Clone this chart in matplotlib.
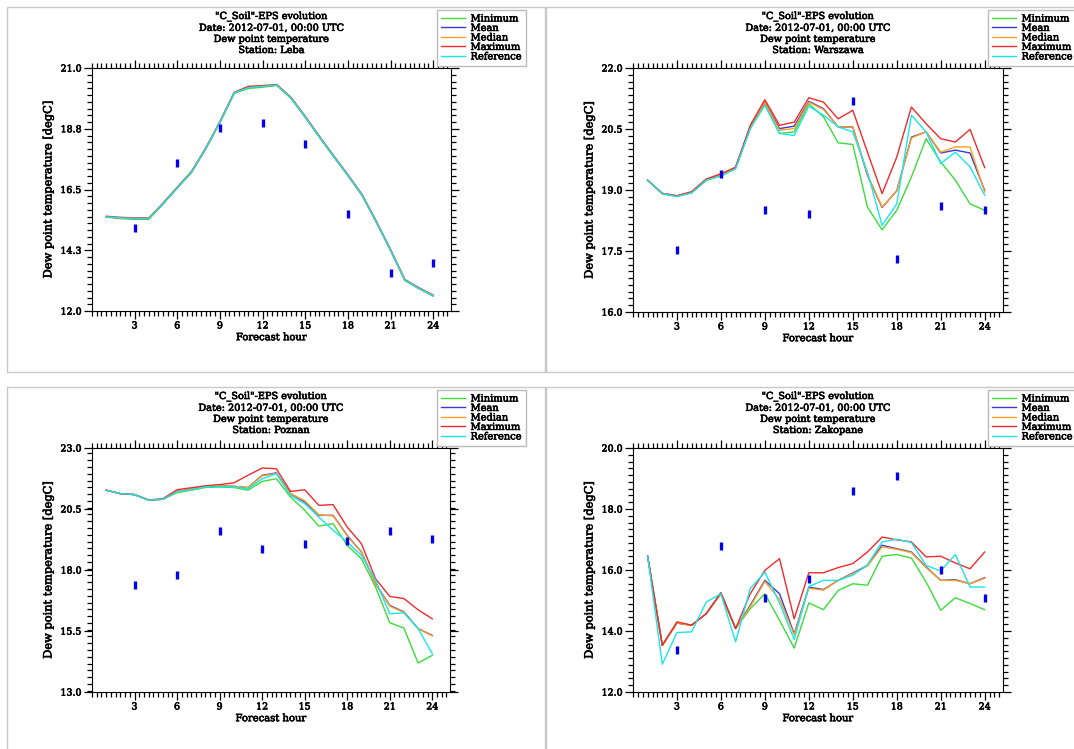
import matplotlib
matplotlib.use("Agg")
import math

import matplotlib.patheffects as pe
import matplotlib.pyplot as plt
from matplotlib.patches import Rectangle
from matplotlib.ticker import FixedLocator, FuncFormatter, MultipleLocator

W, H = 1074, 749

hours = list(range(1, 25))
obs_hours = [3, 6, 9, 12, 15, 18, 21, 24]
series_names = ["Minimum", "Mean", "Median", "Maximum", "Reference"]
series_colors = ["#3bdc3b", "#3a3ad0", "#ffa020", "#ee2b2b", "#19e6ec"]

# Leba
leba_min = [15.48, 15.42, 15.40, 15.40, 15.96, 16.55, 17.13, 18.00, 18.98, 20.06, 20.24, 20.29,
            20.35, 19.87, 19.17, 18.43, 17.71, 17.01, 16.27, 15.28, 14.24, 13.13, 12.82, 12.55]
leba_mean = [15.49, 15.44, 15.42, 15.42, 15.98, 16.57, 17.15, 18.02, 19.00, 20.08, 20.28, 20.32,
             20.37, 19.89, 19.19, 18.45, 17.73, 17.03, 16.29, 15.30, 14.26, 13.15, 12.84, 12.57]
leba_median = [15.49, 15.44, 15.42, 15.42, 15.98, 16.57, 17.15, 18.02, 19.00, 20.08, 20.28, 20.32,
               20.37, 19.89, 19.19, 18.45, 17.73, 17.03, 16.29, 15.30, 14.26, 13.15, 12.84, 12.57]
leba_max = [15.51, 15.47, 15.45, 15.45, 16.00, 16.59, 17.17, 18.04, 19.02, 20.10, 20.32, 20.35,
            20.39, 19.91, 19.21, 18.47, 17.75, 17.05, 16.31, 15.32, 14.28, 13.17, 12.86, 12.59]
leba_ref = [15.49, 15.45, 15.43, 15.43, 15.98, 16.57, 17.15, 18.02, 19.00, 20.08, 20.27, 20.32,
            20.37, 19.89, 19.19, 18.45, 17.73, 17.03, 16.29, 15.30, 14.26, 13.15, 12.84, 12.57]
leba_obs = [15.08, 17.50, 18.79, 18.98, 18.19, 15.60, 13.39, 13.79]

# Warszawa
wars_min = [19.24, 18.91, 18.84, 18.93, 19.24, 19.36, 19.54, 20.51, 21.12, 20.39, 20.43, 21.12,
            20.80, 20.16, 20.12, 18.58, 18.02, 18.50, 19.32, 20.26, 19.69, 19.24, 18.66, 18.50]
wars_mean = [19.24, 18.91, 18.85, 18.94, 19.25, 19.37, 19.55, 20.53, 21.16, 20.51, 20.57, 21.18,
             21.00, 20.55, 20.55, 19.36, 18.57, 18.98, 20.30, 20.43, 19.91, 19.98, 19.91, 18.99]
wars_median = [19.24, 18.91, 18.85, 18.94, 19.25, 19.37, 19.55, 20.53, 21.15, 20.47, 20.51, 21.16,
               20.98, 20.55, 20.55, 19.38, 18.58, 18.98, 20.28, 20.43, 19.93, 20.06, 20.06, 18.95]
wars_max = [19.24, 18.92, 18.86, 18.96, 19.27, 19.40, 19.56, 20.59, 21.22, 20.59, 20.67, 21.27,
            21.16, 20.75, 20.96, 19.93, 18.91, 19.81, 21.04, 20.63, 20.26, 20.18, 20.49, 19.55]
wars_ref = [19.24, 18.91, 18.84, 18.93, 19.24, 19.34, 19.52, 20.51, 21.08, 20.39, 20.34, 21.06,
            20.84, 20.55, 20.43, 19.44, 18.13, 18.66, 20.84, 20.43, 19.65, 19.93, 19.57, 18.87]
wars_obs = [17.52, 19.40, 18.50, 18.42, 21.20, 17.31, 18.60, 18.52]

# Poznan
pozn_min = [21.27, 21.13, 21.09, 20.86, 20.90, 21.17, 21.27, 21.38, 21.40, 21.38, 21.27, 21.63,
            21.74, 20.99, 20.45, 19.80, 19.90, 19.01, 18.46, 17.30, 15.84, 15.62, 14.19, 14.50]
pozn_mean = [21.27, 21.13, 21.09, 20.86, 20.90, 21.22, 21.31, 21.42, 21.45, 21.43, 21.38, 21.88,
             21.98, 21.13, 20.79, 20.24, 20.24, 19.42, 18.74, 17.44, 16.55, 16.28, 15.60, 15.32]
pozn_median = [21.27, 21.13, 21.09, 20.86, 20.90, 21.22, 21.31, 21.42, 21.45, 21.43, 21.38, 21.86,
               21.96, 21.13, 20.84, 20.26, 20.22, 19.40, 18.72, 17.42, 16.52, 16.26, 15.60, 15.30]
pozn_max = [21.27, 21.13, 21.09, 20.87, 20.92, 21.29, 21.37, 21.45, 21.50, 21.57, 21.88, 22.18,
            22.15, 21.22, 21.29, 20.65, 20.68, 19.76, 19.08, 17.64, 16.92, 16.83, 16.37, 16.00]
pozn_ref = [21.27, 21.13, 21.09, 20.86, 20.90, 21.20, 21.29, 21.40, 21.43, 21.40, 21.33, 21.74,
            21.95, 21.06, 20.72, 20.17, 19.63, 19.15, 18.60, 17.58, 16.21, 16.24, 15.60, 14.57]
pozn_obs = [17.40, 17.78, 19.58, 18.87, 19.08, 19.19, 19.58, 19.28]

# Zakopane
zako_min = [16.45, 13.53, 14.26, 14.19, 14.57, 15.22, 14.08, 14.73, 15.22, 14.35, 13.44, 14.92,
            14.70, 15.33, 15.55, 15.50, 16.45, 16.51, 16.39, 15.61, 14.68, 15.09, 14.90, 14.70]
zako_mean = [16.45, 13.53, 14.26, 14.19, 14.57, 15.24, 14.08, 14.84, 15.66, 15.22, 13.91, 15.44,
             15.36, 15.66, 15.90, 16.15, 16.81, 16.70, 16.59, 16.10, 15.66, 15.68, 15.55, 15.75]
zako_median = [16.45, 13.53, 14.26, 14.19, 14.57, 15.24, 14.08, 14.80, 15.62, 15.04, 13.88, 15.40,
               15.34, 15.66, 15.88, 16.13, 16.76, 16.68, 16.57, 16.08, 15.66, 15.66, 15.55, 15.73]
zako_max = [16.45, 13.53, 14.30, 14.19, 14.57, 15.26, 14.08, 15.22, 15.99, 16.37, 14.40, 15.91,
            15.91, 16.08, 16.21, 16.59, 17.08, 16.99, 16.92, 16.43, 16.45, 16.23, 16.04, 16.59]
zako_ref = [16.45, 12.91, 13.95, 13.97, 14.95, 15.22, 13.64, 15.39, 15.93, 14.92, 13.72, 15.46,
            15.66, 15.66, 15.83, 16.17, 16.92, 17.01, 16.90, 16.15, 15.97, 16.51, 15.44, 15.44]
zako_obs = [13.39, 16.79, 15.09, 15.69, 18.59, 19.08, 15.99, 15.09]

stations = ["Leba", "Warszawa", "Poznan", "Zakopane"]
y_ranges = [(12.0, 21.0), (16.0, 22.0), (13.0, 23.0), (12.0, 20.0)]
station_series = [
    (leba_min, leba_mean, leba_median, leba_max, leba_ref),
    (wars_min, wars_mean, wars_median, wars_max, wars_ref),
    (pozn_min, pozn_mean, pozn_median, pozn_max, pozn_ref),
    (zako_min, zako_mean, zako_median, zako_max, zako_ref),
]
station_obs = [leba_obs, wars_obs, pozn_obs, zako_obs]

# axes boxes in pixels: left, top, right, bottom
axes_px = [(92, 68, 451, 311), (633, 68, 1003, 312), (92, 448, 450, 692), (633, 448, 1003, 692)]
legend_px = [(437, 10), (988, 10), (437, 390), (988, 390)]
panel_px = [(7, 7, 545, 372), (546, 7, 1090, 372), (7, 387, 545, 760), (546, 387, 1090, 760)]

plt.rcParams["font.family"] = ["DejaVu Serif"]
# fake a semi-bold weight: the reference font is heavier than DejaVu Serif regular
heavy = [pe.withStroke(linewidth=0.45, foreground="black")]


def fig_rect(l, t, r, b):
    return [l / W, 1 - b / H, (r - l) / W, (b - t) / H]


def half_up(v, pos):
    return f"{math.floor(v * 10 + 0.5) / 10:.1f}"


fig = plt.figure(figsize=(W / 100, H / 100), dpi=100)

for l, t, r, b in panel_px:
    fig.add_artist(Rectangle((l / W, 1 - b / H), (r - l) / W, (b - t) / H,
                             transform=fig.transFigure, fill=False,
                             edgecolor="#c8c8c8", lw=1.0))

for i, name in enumerate(stations):
    ax = fig.add_axes(fig_rect(*axes_px[i]))
    for vals, lab, col in zip(station_series[i], series_names, series_colors):
        ax.plot(hours, vals, color=col, lw=1.0, label=lab)
    ax.plot(obs_hours, station_obs[i], ls="none", marker="|", markersize=6,
            mew=2.4, color="#0000ee")

    lo, hi = y_ranges[i]
    step = (hi - lo) / 4
    ax.set_xlim(0, 25.25)
    ax.set_ylim(lo, hi)
    ax.xaxis.set_major_locator(FixedLocator(obs_hours))
    ax.xaxis.set_minor_locator(MultipleLocator(1 / 3))
    ax.yaxis.set_major_locator(FixedLocator([lo + k * step for k in range(5)]))
    ax.yaxis.set_minor_locator(MultipleLocator(step / 9))
    ax.yaxis.set_major_formatter(FuncFormatter(half_up))
    ax.tick_params(which="both", direction="out", top=True, right=True,
                   width=0.9, labelsize=6.8, pad=2)
    ax.tick_params(which="major", length=5.5)
    ax.tick_params(which="minor", length=3.5)
    for s in ax.spines.values():
        s.set_linewidth(0.8)

    xl = ax.set_xlabel("Forecast hour", fontsize=7.2, labelpad=2)
    yl = ax.set_ylabel("Dew point temperature [degC]", fontsize=8.2, labelpad=5)

    l, t, r, b = axes_px[i]
    ttl = fig.text((l + r) / 2 / W, 1 - (t - 34.5) / H,
                   '"C_Soil"-EPS evolution\nDate: 2012-07-01, 00:00 UTC\n'
                   f"Dew point temperature\nStation: {name}",
                   ha="center", va="center", fontsize=7, linespacing=1.3)

    lx, ly = legend_px[i]
    leg = ax.legend(loc="upper left", bbox_to_anchor=(lx / W, 1 - ly / H),
                    bbox_transform=fig.transFigure, fontsize=7.1, frameon=True,
                    fancybox=False, edgecolor="#bbbbbb", framealpha=1,
                    handlelength=2.4, handletextpad=0.55, labelspacing=0.05,
                    borderpad=0.45, borderaxespad=0)

    texts = [xl, yl, ttl] + leg.get_texts() + ax.get_xticklabels() + ax.get_yticklabels()
    for txt in texts:
        txt.set_path_effects(heavy)

fig.savefig("out.png", dpi=100)
